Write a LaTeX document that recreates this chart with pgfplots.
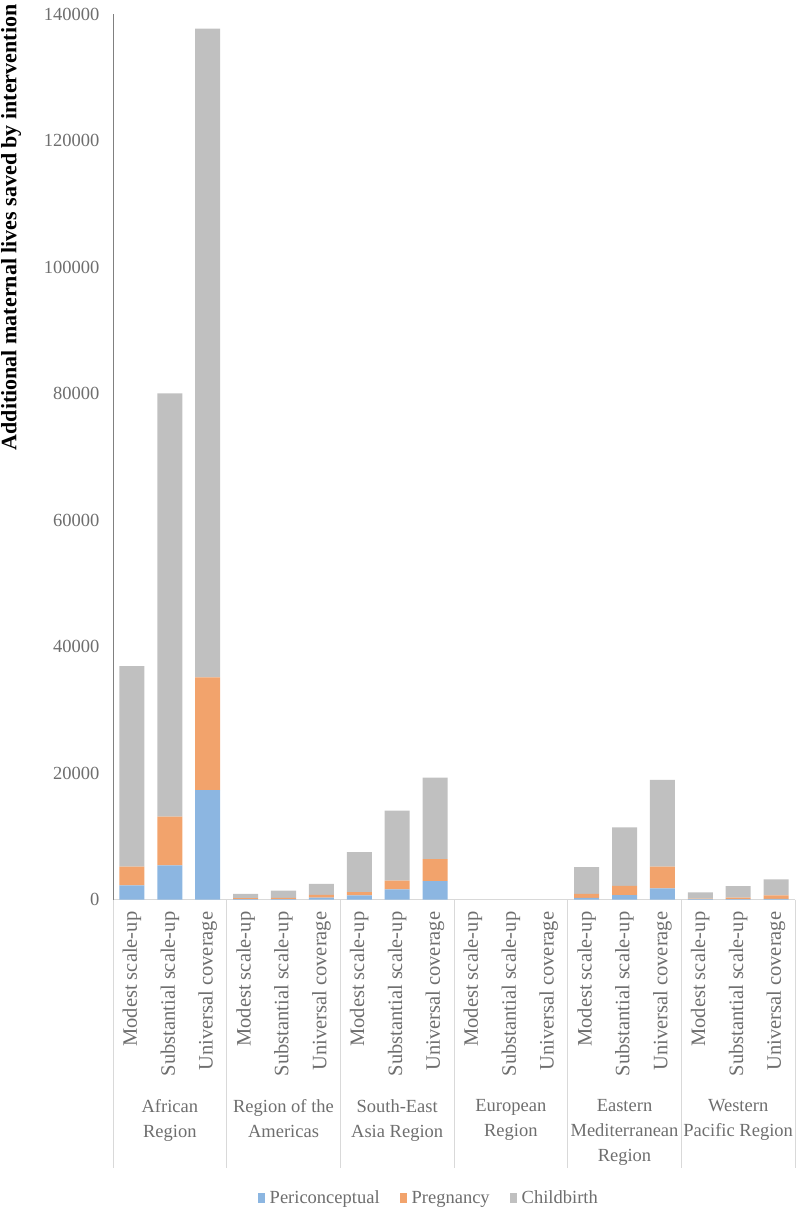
\documentclass[border=0pt]{standalone}
\usepackage{fontspec}
\setmainfont{Liberation Serif}
\usepackage{pgfplots}
\usepackage{pgfplotstable}
\pgfplotsset{compat=1.18}
\definecolor{cblue}{HTML}{8CB6E1}
\definecolor{corange}{HTML}{F2A36C}
\definecolor{cgray}{HTML}{C0C0C0}
\definecolor{ctext}{HTML}{6E6E6E}
\definecolor{csep}{HTML}{D9D9D9}

\pgfplotstableread{
x peri preg child
0 2250 2950 31700
1 5400 7700 66900
2 17300 17800 102600
3 50 150 700
4 50 200 1170
5 300 450 1730
6 660 490 6330
7 1610 1360 11070
8 2920 3480 12860
9 0 0 0
10 0 0 0
11 0 0 0
12 250 650 4210
13 710 1460 9240
14 1770 3420 13710
15 50 100 990
16 50 250 1830
17 100 560 2530
}\datatable

\begin{document}
\begin{tikzpicture}
\path[use as bounding box] (-113pt,-314.5pt) rectangle (684pt,899.5pt);
\begin{axis}[
  at={(0,0)}, anchor=south west,
  scale only axis, width=682pt, height=885.5pt,
  ybar stacked, bar width=0.66,
  xmin=-0.5, xmax=17.5, ymin=0, ymax=140000,
  xtick={0,...,17},
  xticklabels={Modest scale-up,Substantial scale-up,Universal coverage,
               Modest scale-up,Substantial scale-up,Universal coverage,
               Modest scale-up,Substantial scale-up,Universal coverage,
               Modest scale-up,Substantial scale-up,Universal coverage,
               Modest scale-up,Substantial scale-up,Universal coverage,
               Modest scale-up,Substantial scale-up,Universal coverage},
  ytick={0,20000,...,140000},
  scaled y ticks=false,
  yticklabel={\pgfmathprintnumber[fixed,precision=0,1000 sep={},assume math mode=true]{\tick}},
  axis lines*=left,
  x axis line style={draw=csep, line width=0.8pt},
  y axis line style={draw=black!50, line width=0.8pt},
  tick align=outside, major tick length=10pt, tick style={draw=none},
  xticklabel style={rotate=90, anchor=east, inner sep=2pt,
     font=\fontsize{20.5}{24}\selectfont, text=ctext},
  yticklabel style={font=\fontsize{18.5}{22}\selectfont, text=ctext},
  every axis y label/.style={at={([xshift=-102pt]rel axis cs:0,0.759)}, rotate=90, anchor=center,
     font=\fontsize{22}{26}\selectfont\bfseries, text=black},
  ylabel={Additional maternal lives saved by intervention},
  clip=false,
  legend style={at={(rel axis cs:0.463,-0.3371)}, anchor=center, draw=none,
     legend columns=3, font=\fontsize{18.5}{22}\selectfont, text=ctext,
     /tikz/every odd column/.append style={column sep=3pt},
     /tikz/every even column/.append style={column sep=18pt}},
  legend image code/.code={\fill[#1] (0pt,-5pt) rectangle (7pt,5pt);},
]
\addplot[fill=cblue, draw=none] table[x=x,y=peri]{\datatable};
\addplot[fill=corange, draw=none] table[x=x,y=preg]{\datatable};
\addplot[fill=cgray, draw=none] table[x=x,y=child]{\datatable};
\legend{Periconceptual,Pregnancy,Childbirth}

\draw[csep, line width=0.8pt] (axis cs:-0.5,0) -- ([yshift=-268.5pt]axis cs:-0.5,0);
\draw[csep, line width=0.8pt] (axis cs:2.5,0) -- ([yshift=-268.5pt]axis cs:2.5,0);
\draw[csep, line width=0.8pt] (axis cs:5.5,0) -- ([yshift=-268.5pt]axis cs:5.5,0);
\draw[csep, line width=0.8pt] (axis cs:8.5,0) -- ([yshift=-268.5pt]axis cs:8.5,0);
\draw[csep, line width=0.8pt] (axis cs:11.5,0) -- ([yshift=-268.5pt]axis cs:11.5,0);
\draw[csep, line width=0.8pt] (axis cs:14.5,0) -- ([yshift=-268.5pt]axis cs:14.5,0);
\draw[csep, line width=0.8pt] (axis cs:17.5,0) -- ([yshift=-268.5pt]axis cs:17.5,0);

\tikzset{grp/.style={anchor=north, align=center, inner sep=0pt,
   font=\fontsize{18.5}{24.7}\selectfont, text=ctext}}
\node[grp] at ([yshift=-200pt]axis cs:1,0) {African\\Region};
\node[grp] at ([yshift=-200pt]axis cs:4,0) {Region of the\\Americas};
\node[grp] at ([yshift=-200pt]axis cs:7,0) {South-East\\Asia Region};
\node[grp] at ([yshift=-200pt]axis cs:10,0) {European\\Region};
\node[grp] at ([yshift=-200pt]axis cs:13,0) {Eastern\\Mediterranean\\Region};
\node[grp] at ([yshift=-200pt]axis cs:16,0) {Western\\Pacific Region};
\end{axis}
\end{tikzpicture}
\end{document}
